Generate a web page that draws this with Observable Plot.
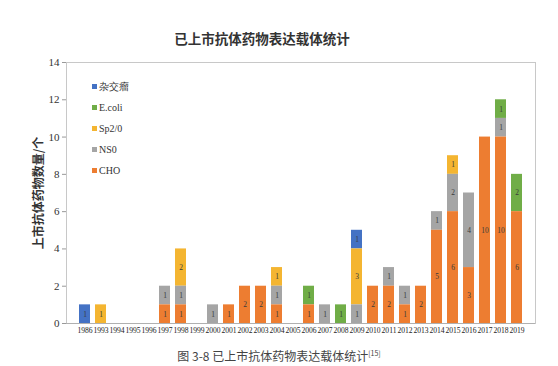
<!DOCTYPE html>
<html><head><meta charset="utf-8">
<script src="https://cdn.jsdelivr.net/npm/d3@7"></script>
<script src="https://cdn.jsdelivr.net/npm/@observablehq/plot@0.6"></script>
<style>
html,body{margin:0;padding:0;background:#fff;}
#wrap{position:relative;width:558px;height:366px;overflow:hidden;}
#title{height:52px;line-height:1;box-sizing:border-box;padding-top:32px;padding-left:0;text-align:center;width:524px;
 font-family:"Noto Sans CJK SC",sans-serif;font-weight:700;font-size:13.5px;color:#333;}
#caption{height:25px;line-height:25px;text-align:center;width:558px;font-family:"Noto Sans CJK SC",sans-serif;font-size:12px;color:#444;}
#caption sup{font-size:7px;}
#legend{position:absolute;left:92px;top:76px;font-family:"Liberation Serif",serif;font-size:10px;color:#333;}
#legend div{height:21px;display:flex;align-items:center;}
#legend span.sw{display:inline-block;width:5px;height:5px;margin-right:2px;}
</style></head>
<body><div id="wrap">
<div id="title">已上市抗体药物表达载体统计</div>
<div id="chart"></div>
<div id="caption">图 3-8 已上市抗体药物表达载体统计<sup>[15]</sup></div>
<div id="legend"></div>
</div>
<script>
const years = ["1986","1993","1994","1995","1996","1997","1998","1999","2000","2001","2002","2003","2004","2005","2006","2007","2008","2009","2010","2011","2012","2013","2014","2015","2016","2017","2018","2019"];
const seriesNames = ["杂交瘤","E.coli","Sp2/0","NS0","CHO"];
const colors = ["#4472C4","#70AD47","#F4B531","#A5A5A5","#ED7D31"];
const hybridoma = [1,0,0,0,0,0,0,0,0,0,0,0,0,0,0,0,0,1,0,0,0,0,0,0,0,0,0,0];
const ecoli     = [0,0,0,0,0,0,0,0,0,0,0,0,0,0,1,0,1,0,0,0,0,0,0,0,0,0,1,2];
const sp20      = [0,1,0,0,0,0,2,0,0,0,0,0,1,0,0,0,0,3,0,0,0,0,0,1,0,0,0,0];
const ns0       = [0,0,0,0,0,1,1,0,1,0,0,0,1,0,0,1,0,1,0,1,1,0,1,2,4,0,1,0];
const cho       = [0,0,0,0,0,1,1,0,0,1,2,2,1,0,1,0,0,0,2,2,1,2,5,6,3,10,10,6];
const yTicks = [0,2,4,6,8,10,12,14];

const seriesValues = [hybridoma, ecoli, sp20, ns0, cho];
const rows = [];
seriesNames.forEach((s, si) => {
  years.forEach((y, i) => {
    const v = seriesValues[si][i];
    if (v > 0) rows.push({year: y, type: s, value: v});
  });
});
const stackOrder = ["CHO","NS0","Sp2/0","E.coli","杂交瘤"];
const serif = "'Liberation Serif', 'DejaVu Serif', serif";

const chart = Plot.plot({
  width: 558,
  height: 289,
  marginTop: 10,
  marginBottom: 18,
  marginLeft: 66,
  marginRight: 23,
  style: {fontFamily: serif, color: "#333", background: "#fff"},
  x: {domain: years, padding: 0.32, label: null, tickSize: 0, tickPadding: 4},
  y: {domain: [0, 14], ticks: yTicks, label: null, tickSize: 4, tickPadding: 3},
  color: {domain: seriesNames, range: colors},
  marks: [
    Plot.frame({stroke: "#c8c8c8"}),
    Plot.axisX({fontSize: 7.6, tickSize: 0, tickPadding: 4, fill: "#222"}),
    Plot.axisY({ticks: yTicks, fontSize: 11, tickSize: 4, tickPadding: 3, stroke: "#999", fill: "#333",
      label: "上市抗体药物数量/个", labelAnchor: "center", labelArrow: "none", labelOffset: 32}),
    Plot.barY(rows, Plot.stackY({x: "year", y: "value", z: "type", fill: "type", order: stackOrder})),
    Plot.text(rows, Plot.stackY({x: "year", y: "value", z: "type", text: "value", order: stackOrder, fontSize: 7.5, fill: "#3a3a3a"})),
    Plot.ruleY([0], {stroke: "#b0b0b0"})
  ]
});
chart.querySelectorAll("[aria-label='y-axis label'] text").forEach(t => {
  t.setAttribute("font-family", "'Noto Sans CJK SC', sans-serif");
  t.setAttribute("font-weight", "700");
  t.setAttribute("font-size", "12");
});
document.getElementById("chart").appendChild(chart);

const legend = document.getElementById("legend");
seriesNames.forEach((s, i) => {
  const d = document.createElement("div");
  d.innerHTML = `<span class="sw" style="background:${colors[i]}"></span>${s}`;
  legend.appendChild(d);
});
</script>
</body></html>
